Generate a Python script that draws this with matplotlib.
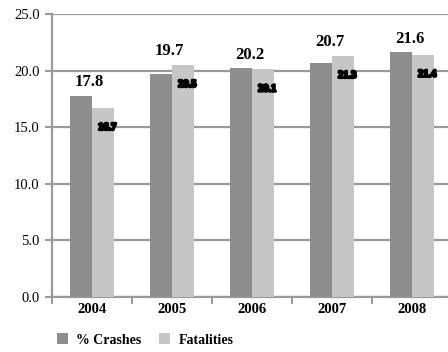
import matplotlib.pyplot as plt
import matplotlib.patheffects as pe
import numpy as np


years = ["2004", "2005", "2006", "2007", "2008"]
crashes = [17.8, 19.7, 20.2, 20.7, 21.6]
fatalities = [16.7, 20.5, 20.1, 21.3, 21.4]
yticks = [0.0, 5.0, 10.0, 15.0, 20.0, 25.0]

DARK = "#8e8e8e"
LIGHT = "#c6c6c6"
AXIS = "#9a9a9a"
SERIF = ["Liberation Serif", "DejaVu Serif"]


def main():
    fig = plt.figure(figsize=(4.48, 3.52), dpi=100)
    # axes run slightly past the right edge of the figure
    ax = fig.add_axes([52 / 448, 55 / 352, 400 / 448, 283 / 352])

    x = np.arange(len(years))
    w = 0.275
    ax.bar(x - w / 2, crashes, w, color=DARK, zorder=3, label="% Crashes")
    ax.bar(x + w / 2, fatalities, w, color=LIGHT, zorder=3, label="Fatalities")

    ax.set_xlim(-0.5, len(years) - 0.5)
    ax.set_ylim(0, 25)
    ax.set_yticks(yticks)
    ax.set_yticklabels([f"{v:.1f}" for v in yticks], family=SERIF, fontsize=10.5)
    ax.yaxis.grid(True, color=AXIS, linewidth=1.6, zorder=0)
    ax.set_axisbelow(True)

    # year labels between the boundary ticks
    ax.set_xticks(x)
    ax.set_xticklabels(years, family=SERIF, fontsize=10.5, fontweight="bold")
    ax.tick_params(axis="x", length=0, pad=4)
    ax.set_xticks(np.arange(-0.5, len(years)), minor=True)
    ax.tick_params(axis="x", which="minor", length=5, width=1.5, color=AXIS)
    ax.tick_params(axis="y", length=5, width=1.5, color=AXIS, pad=4)

    for side in ("top", "right"):
        ax.spines[side].set_visible(False)
    for side in ("left", "bottom"):
        ax.spines[side].set_color(AXIS)
        ax.spines[side].set_linewidth(1.6)

    for i, (c, f) in enumerate(zip(crashes, fatalities)):
        ax.annotate(f"{c:.1f}", (i - 0.03, max(c, f)), xytext=(0, 4),
                    textcoords="offset points", ha="center", va="bottom",
                    family=SERIF, fontsize=12, fontweight="bold", zorder=5)
        ax.annotate(f"{f:.1f}", (i + w / 2, f), xytext=(3, -14),
                    textcoords="offset points", ha="center", va="center",
                    family=SERIF, fontsize=7.5, fontweight="bold", color="black",
                    path_effects=[pe.withStroke(linewidth=1.8, foreground="black")],
                    zorder=5)

    fig.legend(loc="center left", bbox_to_anchor=(44 / 448, 1 - 340 / 352), ncol=2,
               frameon=False, handlelength=0.8, handleheight=0.8,
               handletextpad=0.6, columnspacing=1.3,
               prop={"family": SERIF, "weight": "bold", "size": 10})

    fig.savefig("out.png", dpi=100)
    plt.close(fig)


if __name__ == "__main__":
    main()
